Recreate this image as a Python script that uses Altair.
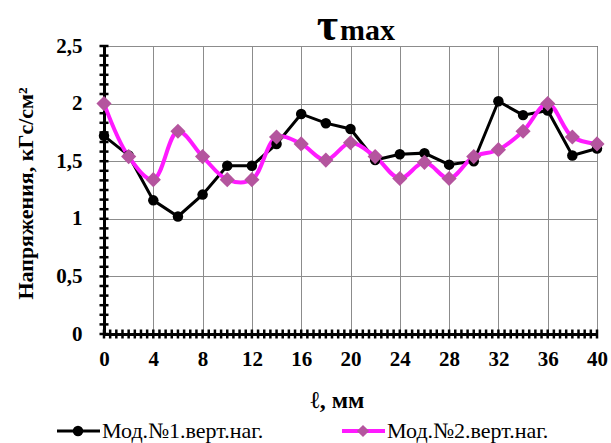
import altair as alt
import pandas as pd

# ---- data ----
positions = [0, 2, 4, 6, 8, 10, 12, 14, 16, 18, 20, 22, 24, 26, 28, 30, 32, 34, 36, 38, 40]
mod1 = [1.72, 1.55, 1.16, 1.02, 1.21, 1.46, 1.46, 1.65, 1.91, 1.83, 1.78,
        1.51, 1.56, 1.57, 1.47, 1.50, 2.02, 1.90, 1.94, 1.55, 1.61]
mod2 = [2.00, 1.54, 1.34, 1.76, 1.54, 1.34, 1.34, 1.71, 1.65, 1.51, 1.66,
        1.54, 1.35, 1.49, 1.35, 1.54, 1.60, 1.76, 2.00, 1.71, 1.65]
series_names = ["Мод.№1.верт.наг.", "Мод.№2.верт.наг."]
x_major = list(range(0, 41, 4))
y_major = [0, 0.5, 1, 1.5, 2, 2.5]
x_minor = [i * 0.5 for i in range(0, 81)]
y_minor = [round(i * 0.5 / 6, 5) for i in range(0, 31)]

df1 = pd.DataFrame({"x": positions, "y": mod1})
df2 = pd.DataFrame({"x": positions, "y": mod2})
dfxm = pd.DataFrame({"x": x_minor})
dfym = pd.DataFrame({"y": y_minor})
leg = pd.DataFrame({"name": [series_names[0]]})
leg2 = pd.DataFrame({"name": [series_names[1]]})

SERIF = "Liberation Serif"
BLACK = "#000000"
GRID = "#8c8c8c"
MAG = "#FF1AFF"
MAG_MK = "#B4559E"
W, H = 493, 288

xs = alt.Scale(domain=[0, 40], nice=False, zero=False)
ys = alt.Scale(domain=[0, 2.5], nice=False)

x_main = alt.X("x:Q", scale=xs, axis=alt.Axis(
    orient="bottom", values=x_major, grid=True, gridColor=GRID, gridWidth=1,
    domain=True, domainColor=BLACK, domainWidth=3, ticks=False, labelFlush=False,
    labelFont=SERIF, labelFontSize=21, labelFontWeight="bold", labelColor=BLACK,
    labelPadding=14, title="ℓ, мм", titleFont=SERIF, titleFontSize=24,
    titleFontWeight="bold", titleColor=BLACK, titleX=233, titleY=66,
    titleBaseline="middle", titleAlign="center", zindex=0))
y_main = alt.Y("y:Q", scale=ys, axis=alt.Axis(
    orient="left", values=y_major, grid=True, gridColor=GRID, gridWidth=1,
    domain=True, domainColor=BLACK, domainWidth=3, ticks=False,
    labelFont=SERIF, labelFontSize=21, labelFontWeight="bold", labelColor=BLACK,
    labelPadding=22, format="~g", labelExpr="replace(datum.label, '.', ',')",
    title="Напряжения, кГс/см²", titleFont=SERIF, titleFontSize=22,
    titleFontWeight="bold", titleColor=BLACK, titleX=-79, titleY=147,
    titleAngle=270, titleBaseline="middle", titleAlign="center", zindex=0))

xn = alt.X("x:Q", scale=xs, axis=None)
yn = alt.Y("y:Q", scale=ys, axis=None)

line1 = alt.Chart(df1).mark_line(color=BLACK, strokeWidth=3).encode(x=x_main, y=y_main)

# cross ticks on both axes (Excel style), drawn as short rules
xticks = alt.Chart(dfxm).mark_rule(color=BLACK, strokeWidth=2.5).encode(
    x=xn, y=alt.value(H - 4.5), y2=alt.value(H + 4.5))
yticks = alt.Chart(dfym).mark_rule(color=BLACK, strokeWidth=2.5).encode(
    y=yn, x=alt.value(-4.5), x2=alt.value(4.5))

line2 = alt.Chart(df2).mark_line(color=MAG, strokeWidth=4, interpolate="catmull-rom").encode(x=xn, y=yn)
pts1 = alt.Chart(df1).mark_point(shape="circle", filled=True, color=BLACK, size=110, opacity=1).encode(x=xn, y=yn)
pts2 = alt.Chart(df2).mark_point(shape="diamond", filled=True, color=MAG_MK, size=230, opacity=1).encode(x=xn, y=yn)

# title τmax
t_tau = alt.Chart(leg).mark_text(text="τ", font=SERIF, fontSize=46, fontWeight="bold",
                                 color=BLACK, align="right", baseline="alphabetic").encode(
    x=alt.value(234), y=alt.value(-6))
t_max = alt.Chart(leg).mark_text(text="max", font=SERIF, fontSize=30, fontWeight="bold",
                                 color=BLACK, align="left", baseline="alphabetic").encode(
    x=alt.value(236), y=alt.value(-6))

# legend
LY = 385
l1_rule = alt.Chart(leg).mark_rule(color=BLACK, strokeWidth=3).encode(
    x=alt.value(-47), x2=alt.value(-4), y=alt.value(LY))
l1_pt = alt.Chart(leg).mark_point(shape="circle", filled=True, color=BLACK, size=110, opacity=1).encode(
    x=alt.value(-26), y=alt.value(LY))
l1_txt = alt.Chart(leg).mark_text(font=SERIF, fontSize=22, color=BLACK, align="left",
                                  baseline="middle").encode(
    x=alt.value(-2), y=alt.value(LY), text="name:N")
l2_rule = alt.Chart(leg2).mark_rule(color=MAG, strokeWidth=4).encode(
    x=alt.value(238), x2=alt.value(281), y=alt.value(LY))
l2_pt = alt.Chart(leg2).mark_point(shape="diamond", filled=True, color=MAG_MK, size=150, opacity=1).encode(
    x=alt.value(259), y=alt.value(LY))
l2_txt = alt.Chart(leg2).mark_text(font=SERIF, fontSize=22, color=BLACK, align="left",
                                   baseline="middle").encode(
    x=alt.value(283), y=alt.value(LY), text="name:N")

chart = alt.layer(
    line1, xticks, yticks, line2, pts1, pts2,
    t_tau, t_max, l1_rule, l1_pt, l1_txt, l2_rule, l2_pt, l2_txt
).resolve_axis(x="independent", y="independent").properties(
    width=W, height=H,
    autosize=alt.AutoSizeParams(type="none"),
    padding={"left": 104, "top": 46, "right": 14, "bottom": 109},
    background="white",
).configure_view(stroke=BLACK, strokeWidth=1)

chart.save("out.html", embed_options={"renderer": "svg", "actions": False})
